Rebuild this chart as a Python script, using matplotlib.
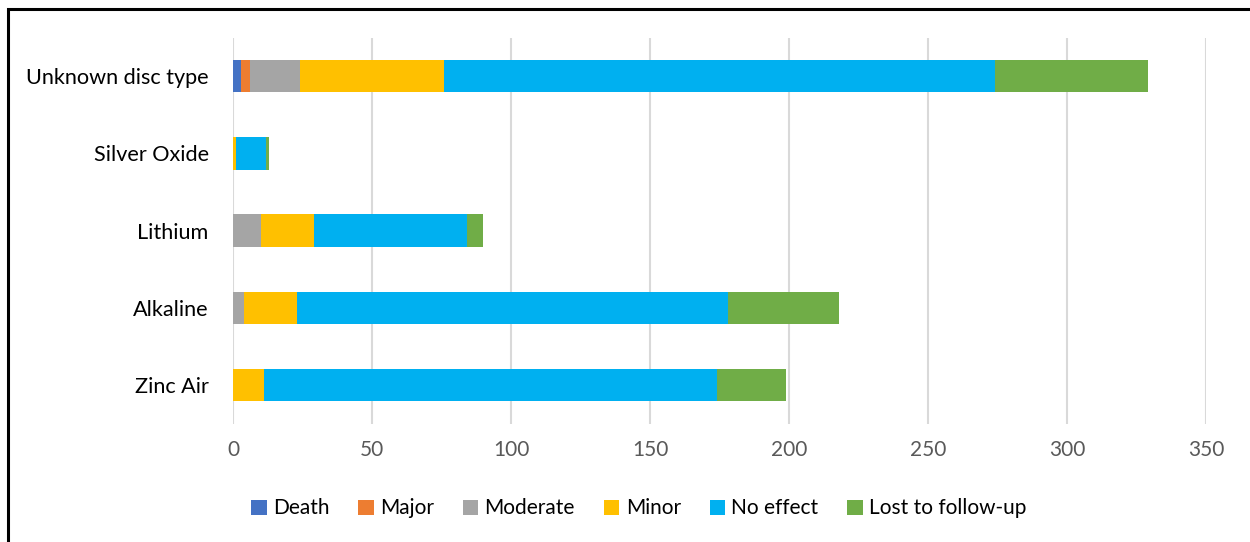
import matplotlib
matplotlib.use("Agg")
import matplotlib.pyplot as plt
import numpy as np
from matplotlib.patches import Rectangle

plt.rcParams["font.family"] = ["Lato", "DejaVu Sans"]

# Battery types, bottom to top as drawn
battery = ["Zinc Air", "Alkaline", "Lithium", "Silver Oxide", "Unknown disc type"]

# Outcome counts per battery type (same order as battery)
death = [0, 0, 0, 0, 3]
major = [0, 0, 0, 0, 3]
moderate = [0, 4, 10, 0, 18]
minor = [11, 19, 19, 1, 52]
no_effect = [163, 155, 55, 11, 198]
lost = [25, 40, 6, 1, 55]

outcomes = ["Death", "Major", "Moderate", "Minor", "No effect", "Lost to follow-up"]
colors = ["#4472c4", "#ed7d31", "#a5a5a5", "#ffc000", "#00b0f0", "#70ad47"]
xticks = [0, 50, 100, 150, 200, 250, 300, 350]

fig = plt.figure(figsize=(12.5, 5.42), dpi=100)
ax = fig.add_axes([0.1864, 0.2186, 0.7784, 0.7122])

y = np.arange(len(battery))
left = np.zeros(len(battery))
handles = []
for name, vals, c in zip(outcomes, [death, major, moderate, minor, no_effect, lost], colors):
    vals = np.array(vals, dtype=float)
    h = ax.barh(y, vals, left=left, height=0.42, color=c, label=name, zorder=3)
    handles.append(h)
    left += vals

ax.set_xlim(0, 350)
ax.set_ylim(-0.5, len(battery) - 0.5)
ax.set_xticks(xticks)
ax.set_yticks(y)
ax.set_yticklabels(battery, fontsize=15.6, color="black")
ax.tick_params(axis="x", labelsize=15, labelcolor="#595959", length=0, pad=12)
ax.tick_params(axis="y", length=0, pad=17.5)
ax.xaxis.grid(True, color="#d9d9d9", linewidth=1.5, zorder=0)
ax.set_axisbelow(True)
for s in ax.spines.values():
    s.set_visible(False)

fig.legend(handles=handles, labels=outcomes, loc="center", bbox_to_anchor=(0.511, 0.062),
           ncol=6, frameon=False, fontsize=15, handlelength=0.75, handleheight=0.75,
           handletextpad=0.3, columnspacing=1.38)

# outer frame, only left and top edges fall inside the picture
fig.patches.append(Rectangle((7.5 / 1250, -0.05), 1.1, 1 - 9 / 542 + 0.05,
                             transform=fig.transFigure, fill=False,
                             edgecolor="black", linewidth=2.2))

fig.savefig("out.png", dpi=100)
